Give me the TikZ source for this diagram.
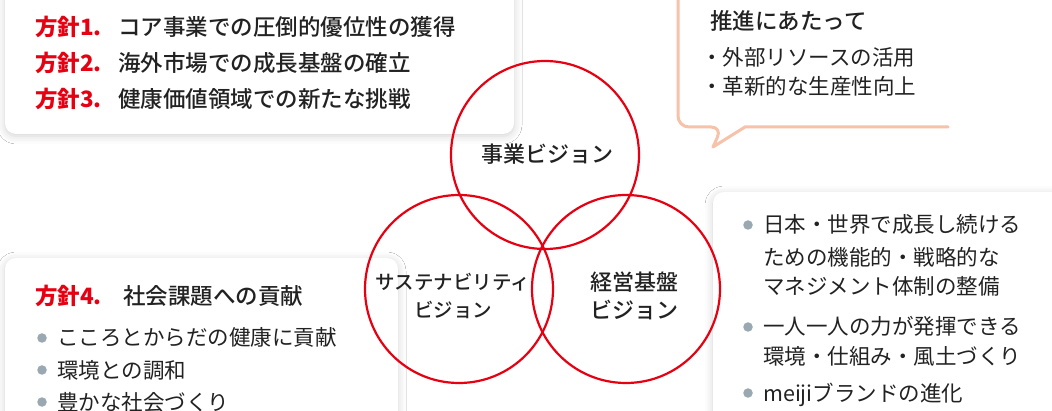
\documentclass[tikz,border=0pt]{standalone}
\usepackage{fontspec}
\setmainfont{Noto Sans CJK JP}
\newfontfamily\medfont{Noto Sans CJK JP Medium}
\usetikzlibrary{shadows.blur}
\definecolor{mred}{HTML}{E60012}
\definecolor{mtext}{HTML}{222222}
\definecolor{mgray}{HTML}{9AA8B2}
\definecolor{mpeach}{HTML}{F6C2AA}
\tikzset{
  card/.style={fill=white, rounded corners=11pt, blur shadow={shadow xshift=0pt, shadow yshift=-2pt, shadow blur radius=8pt, shadow opacity=18}},
  vcircle/.style={circle, draw=mred, line width=2.2pt, minimum size=188pt, inner sep=0pt},
  vlabel/.style={font=\fontsize{22}{28}\selectfont\medfont, text=mtext, align=center, inner sep=0pt},
  redhead/.style={anchor=base west, inner sep=0pt, text=mred, font=\fontsize{22.5}{24}\selectfont\bfseries},
  blackhead/.style={anchor=base west, inner sep=0pt, text=mtext, font=\fontsize{22.5}{24}\selectfont\medfont},
  item/.style={anchor=base west, inner sep=0pt, text=mtext, font=\fontsize{21.5}{24}\selectfont},
  dotb/.style={circle, fill=mgray, minimum size=9.5pt, inner sep=0pt},
  bubble/.style={draw=mpeach, line width=3pt, line cap=round, line join=round, rounded corners=11pt}
}
\begin{document}
\begin{tikzpicture}[x=1pt,y=-1pt]
\useasboundingbox (0,0) rectangle (1052,411);
\fill[white] (0,0) rectangle (1052,411);

% cards
\path[card] (5,-40) rectangle (514,134);
\path[card] (5,258) rectangle (398,440);
\path[card] (713,192) rectangle (1080,440);

% callout bubble
\coordinate (bA) at (678,-20);
\coordinate (bB) at (678,127);
\coordinate (bC) at (722,127);
\coordinate (bT) at (713,147);
\coordinate (bD) at (745,127);
\coordinate (bE) at (948,127);
\draw[bubble] (bA) -- (bB) -- (bC) [sharp corners] -- (bT) -- (bD) -- (bE);

% top-left card text
\node[redhead] (p1) at (35,36) {方針1.};
\node[blackhead] (t1) at (118,36) {コア事業での圧倒的優位性の獲得};
\node[redhead] (p2) at (35,72) {方針2.};
\node[blackhead] (t2) at (118,72) {海外市場での成長基盤の確立};
\node[redhead] (p3) at (35,108) {方針3.};
\node[blackhead] (t3) at (118,108) {健康価値領域での新たな挑戦};

% callout text
\node[blackhead] (h5) at (710,30) {推進にあたって};
\node[item] (s1) at (701,66) {・外部リソースの活用};
\node[item] (s2) at (701,95) {・革新的な生産性向上};

% bottom-left card
\node[redhead] (p4) at (35,305) {方針4.};
\node[blackhead] (t4) at (123,305) {社会課題への貢献};
\node[dotb] (d1) at (42,338) {};
\node[item] (i1) at (57,346) {こころとからだの健康に貢献};
\node[dotb] (d2) at (42,370) {};
\node[item] (i2) at (57,378) {環境との調和};
\node[dotb] (d3) at (42,402) {};
\node[item] (i3) at (57,410) {豊かな社会づくり};

% bottom-right card
\node[dotb] (r1) at (748,225) {};
\node[item] (j1) at (763,233) {日本・世界で成長し続ける};
\node[item] (j2) at (763,266) {ための機能的・戦略的な};
\node[item] (j3) at (763,295) {マネジメント体制の整備};
\node[dotb] (r2) at (748,327) {};
\node[item] (j4) at (763,335) {一人一人の力が発揮できる};
\node[item] (j5) at (763,365) {環境・仕組み・風土づくり};
\node[dotb] (r3) at (748,393) {};
\node[item] (j6) at (763,401) {meijiブランドの進化};

% circles
\node[vcircle] (cb) at (545,155) {};
\node[vcircle] (cs) at (459,289) {};
\node[vcircle] (cm) at (626,289) {};
\node[vlabel] (lb) at (547,154) {事業ビジョン};
\node[vlabel, font=\fontsize{19.5}{28}\selectfont\medfont] (ls) at (453,296) {サステナビリティ\\ビジョン};
\node[vlabel] (lm) at (634,296) {経営基盤\\ビジョン};
\end{tikzpicture}
\end{document}
